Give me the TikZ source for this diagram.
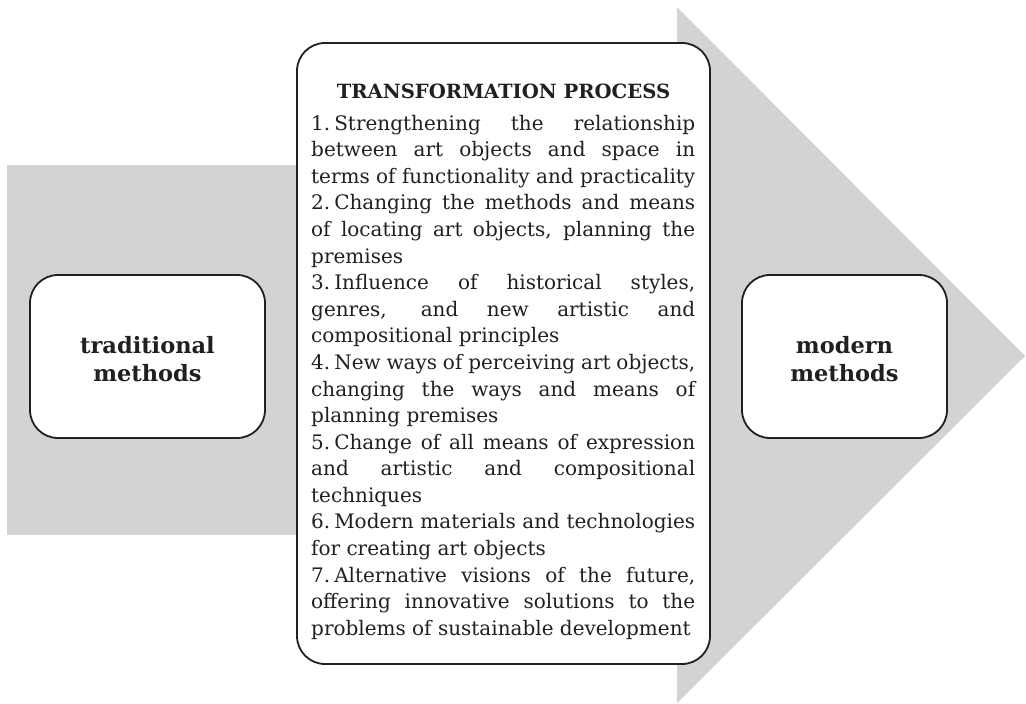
\documentclass[tikz,border=0pt]{standalone}
\usepackage{fontspec}
\setmainfont{DejaVu Serif}
\definecolor{bandgray}{HTML}{D1D3D4}
\definecolor{ink}{HTML}{231F20}
\newcommand\jline[1]{\makebox[384pt][s]{#1}\\}
\newcommand\rline[1]{\makebox[384pt][l]{#1}}
\newcommand\numsp{\hspace{0.2em}}
\begin{document}
\begin{tikzpicture}[x=1pt,y=-1pt,
  roundbox/.style={draw=ink, line width=1.8pt, rounded corners=28pt, fill=white, inner sep=0pt},
  sidelabel/.style={text=ink, font=\bfseries\fontsize{22.5}{28}\selectfont, align=center}]
\useasboundingbox (0,0) rectangle (1026,704);
% grey band and big arrow
\fill[bandgray] (7,165) rectangle (300,535);
\fill[bandgray] (677,7) -- (1025,356) -- (677,703) -- cycle;
% boxes
\node[roundbox, minimum width=235pt, minimum height=163pt] (trad) at (147.5,356.5) {};
\node[roundbox, minimum width=205pt, minimum height=163pt] (modern) at (844.5,356.5) {};
\node[roundbox, minimum width=413pt, minimum height=621pt] (proc) at (503.5,353.5) {};
\node[sidelabel] (tradtext) at ([yshift=-3pt]trad.center) {traditional\\methods};
\node[sidelabel] (moderntext) at ([yshift=-3pt]modern.center) {modern\\methods};
% title and body
\node[anchor=base, inner sep=0pt, text=ink, font=\bfseries\fontsize{19.6}{22}\selectfont] (title) at (503.5,98) {TRANSFORMATION PROCESS};
\node[anchor=base west, inner sep=0pt, text=ink] (body) at (311,130) {\parbox[t]{384pt}{\fontsize{20}{26.6}\selectfont
\jline{1.\numsp Strengthening the relationship}
\jline{between art objects and space in}
\rline{terms of functionality and practicality}\\
\jline{2.\numsp Changing the methods and means}
\jline{of locating art objects, planning the}
\rline{premises}\\
\jline{3.\numsp Influence of historical styles,}
\jline{genres, and new artistic and}
\rline{compositional principles}\\
\jline{4.\numsp New ways of perceiving art objects,}
\jline{changing the ways and means of}
\rline{planning premises}\\
\jline{5.\numsp Change of all means of expression}
\jline{and artistic and compositional}
\rline{techniques}\\
\jline{6.\numsp Modern materials and technologies}
\rline{for creating art objects}\\
\jline{7.\numsp Alternative visions of the future,}
\jline{offering innovative solutions to the}
\rline{problems of sustainable development}}};
\end{tikzpicture}
\end{document}
